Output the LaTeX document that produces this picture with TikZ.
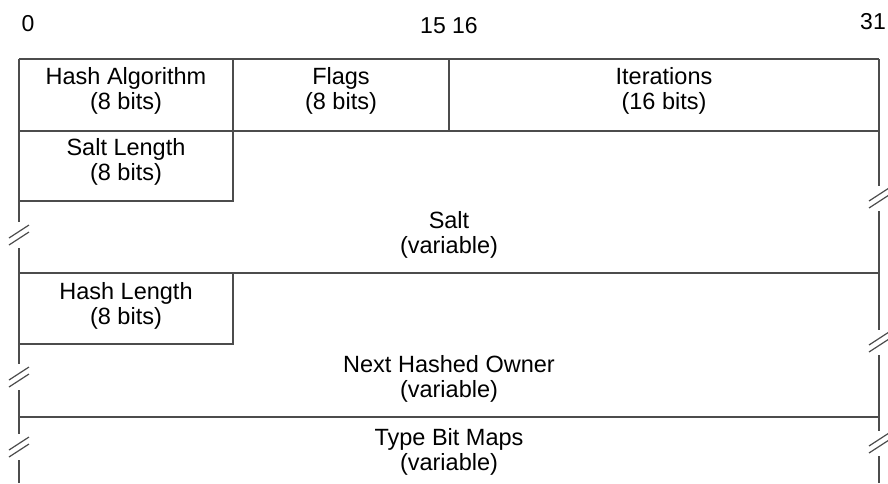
\documentclass[tikz,border=0pt]{standalone}
\usepackage{fontspec}
\setmainfont{Liberation Sans}

\begin{document}
\begin{tikzpicture}[
    x=1pt,y=-1pt,
    rule/.style={line width=1.3pt,black!70},
    brk/.style={line width=1.2pt,black!70},
    fld/.style={align=center,font=\fontsize{23.5}{24.5}\selectfont,inner sep=0pt},
    bitno/.style={font=\fontsize{23}{24}\selectfont,inner sep=0pt}
  ]
    \useasboundingbox (0,0) rectangle (888,483);
    % bit numbers
    \node[bitno] (b0) at (28,24) {0};
    \node[bitno] (b1516) at (449,26) {15 16};
    \node[bitno] (b31) at (873,22) {31};
    % outer edges, with breaks
    \draw[rule] (19,59) -- (19,222) (19,248) -- (19,364) (19,390) -- (19,434) (19,460) -- (19,483);
    \draw[rule] (879,59) -- (879,186) (879,211) -- (879,330) (879,355) -- (879,431) (879,456) -- (879,483);
    \foreach \x/\y in {19/235,19/377,19/447,879/198,879/342,879/443} {\draw[brk] (\x-10,\y+3) -- (\x+10,\y-10) (\x-10,\y+10) -- (\x+10,\y-3);}
    % rows
    \foreach \y in {59,131,273,417} {\draw[rule] (19,\y) -- (879,\y);}
    \draw[rule] (233,59) -- (233,131) (449,59) -- (449,131);
    \draw[rule] (19,201) -- (233,201) -- (233,131);
    \draw[rule] (19,344) -- (233,344) -- (233,273);
    % fields
    \node[fld] (halg) at (126,91) {Hash Algorithm\\(8 bits)};
    \node[fld] (flags) at (341,91) {Flags\\(8 bits)};
    \node[fld] (iter) at (664,91) {Iterations\\(16 bits)};
    \node[fld] (slen) at (126,162) {Salt Length\\(8 bits)};
    \node[fld] (salt) at (449,235) {Salt\\(variable)};
    \node[fld] (hlen) at (126,306) {Hash Length\\(8 bits)};
    \node[fld] (nho) at (449,379) {Next Hashed Owner\\(variable)};
    \node[fld] (tbm) at (449,452) {Type Bit Maps\\(variable)};
\end{tikzpicture}
\end{document}
